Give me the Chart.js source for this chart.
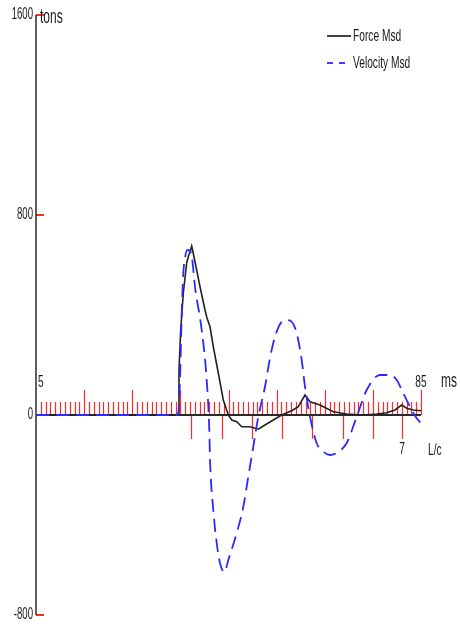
<!DOCTYPE html>
<html>
<head>
<meta charset="utf-8">
<script src="https://cdn.jsdelivr.net/npm/chart.js@4/dist/chart.umd.min.js"></script>
<style>
  html, body { margin: 0; padding: 0; background: #fff; }
  #wrap { width: 460px; height: 628px; }
</style>
</head>
<body>
<div id="wrap"><canvas id="chart" width="460" height="628"></canvas></div>
<script>
// time in ms, force / velocity in tons
const forceMs = [5, 34.5, 34.57, 34.71, 35.07, 35.61, 36.31, 36.69, 37.0, 37.35, 37.62, 38.04, 39.08, 40.12, 40.53, 41.16, 41.84, 42.88, 43.92, 44.96, 45.67, 46.71, 47.75, 49.47, 51.19, 52.58, 54.31, 56.06, 58.13, 59.5, 60.9, 61.94, 64.01, 66.78, 69.56, 73.01, 75.8, 77.87, 79.6, 80.99, 82.03, 83.4, 85];
const forceTons = [0, 0, 8, 180, 340, 488, 608, 636, 652, 676, 652, 613, 513, 420, 388, 353, 273, 168, 60, 0, -20, -27, -47, -47, -57, -40, -20, 0, 17, 33, 80, 53, 40, 13, 4, 0, 4, 9, 20, 40, 27, 20, 17];

const velMs = [5, 34.5, 34.92, 35.28, 35.61, 35.96, 36.44, 37.0, 37.42, 38.04, 39.43, 40.47, 41.01, 41.16, 41.84, 42.55, 43.23, 44.13, 44.96, 46.7, 48.08, 49.11, 50.15, 51.19, 52.58, 53.62, 54.66, 56.06, 57.09, 58.13, 59.17, 60.21, 60.9, 61.94, 63.33, 64.7, 66.09, 67.75, 69.56, 71.64, 73.72, 76.48, 78.56, 79.95, 81.32, 82.71, 84.1, 85];
const velTons = [0, 0, 140, 408, 568, 628, 660, 657, 628, 513, 340, 140, -60, -180, -380, -512, -592, -629, -580, -472, -367, -247, -127, -7, 113, 228, 313, 373, 380, 373, 327, 220, 113, -7, -113, -147, -160, -148, -112, -7, 100, 160, 160, 140, 87, 33, -13, -33];

const yTicks = [1600, 800, 0, -800];
const msMajor = [15, 25, 35, 45, 55, 65, 75, 85];
const lcTickMs = [37.15, 43.65, 49.88, 56.12, 62.35, 68.73, 74.96, 81.05];
const lcLabels = ["", "", "", "", "", "", "", "7"];

const RED = "#ff2a2a";
const SX = 0.6; // text is squeezed horizontally

function txt(ctx, s, x, y, align, size) {
  ctx.save();
  ctx.translate(x, y);
  ctx.scale(SX, 1);
  ctx.font = size + "px 'Liberation Sans', Arial, sans-serif";
  ctx.fillStyle = "#1a1a1a";
  ctx.textAlign = align;
  ctx.textBaseline = "middle";
  ctx.fillText(s, 0, 0);
  ctx.restore();
}

const axesPlugin = {
  id: "axesPlugin",
  beforeDatasetsDraw(chart) {
    const { ctx, chartArea: a, scales: { x, y } } = chart;
    const y0 = y.getPixelForValue(0);
    ctx.save();
    ctx.strokeStyle = RED;
    ctx.lineWidth = 1.2;
    // ms ticks above the axis
    for (let m = 6; m <= 85; m++) {
      const px = Math.round(x.getPixelForValue(m)) + 0.5;
      const len = msMajor.includes(m) ? 25 : 13;
      ctx.beginPath();
      ctx.moveTo(px, y0);
      ctx.lineTo(px, y0 - len);
      ctx.stroke();
    }
    // L/c ticks below the axis
    lcTickMs.forEach(m => {
      const px = Math.round(x.getPixelForValue(m)) + 0.5;
      ctx.beginPath();
      ctx.moveTo(px, y0);
      ctx.lineTo(px, y0 + 24);
      ctx.stroke();
    });
    // y axis ticks
    ctx.lineWidth = 2;
    yTicks.forEach(v => {
      const py = y.getPixelForValue(v);
      ctx.beginPath();
      ctx.moveTo(a.left, py);
      ctx.lineTo(a.left + 8, py);
      ctx.stroke();
    });
    // axis lines
    ctx.strokeStyle = "#2a2a2a";
    ctx.lineWidth = 2;
    ctx.beginPath();
    ctx.moveTo(a.left, y0);
    ctx.lineTo(x.getPixelForValue(85), y0);
    ctx.stroke();
    ctx.lineWidth = 1.5;
    ctx.beginPath();
    ctx.moveTo(a.left, a.top);
    ctx.lineTo(a.left, a.bottom);
    ctx.stroke();
    ctx.restore();
  },
  afterDraw(chart) {
    const { ctx, chartArea: a, scales: { x, y } } = chart;
    const y0 = y.getPixelForValue(0);
    yTicks.forEach(v => txt(ctx, String(v), a.left - 3, y.getPixelForValue(v), "right", 16));
    txt(ctx, "tons", a.left + 4, a.top + 2, "left", 20);
    txt(ctx, "5", a.left + 2, y0 - 33, "left", 17);
    txt(ctx, "85", x.getPixelForValue(85), y0 - 33, "center", 17);
    txt(ctx, "ms", x.getPixelForValue(85) + 20, y0 - 34, "left", 20);
    lcTickMs.forEach((m, i) => {
      if (lcLabels[i]) txt(ctx, lcLabels[i], x.getPixelForValue(m), y0 + 34, "center", 17);
    });
    txt(ctx, "L/c", x.getPixelForValue(85) + 7, y0 + 35, "left", 17);

    // legend
    ctx.save();
    ctx.strokeStyle = "#111";
    ctx.lineWidth = 1.6;
    ctx.beginPath();
    ctx.moveTo(327, 36);
    ctx.lineTo(351, 36);
    ctx.stroke();
    ctx.strokeStyle = "#2a2aff";
    ctx.lineWidth = 1.8;
    ctx.setLineDash([6, 6]);
    ctx.beginPath();
    ctx.moveTo(327, 63);
    ctx.lineTo(351, 63);
    ctx.stroke();
    ctx.restore();
    txt(ctx, "Force Msd", 353, 36, "left", 17);
    txt(ctx, "Velocity Msd", 353, 63, "left", 17);
  }
};

new Chart(document.getElementById("chart"), {
  type: "line",
  data: {
    datasets: [
      {
        label: "Velocity Msd",
        data: velMs.map((m, i) => ({ x: m, y: velTons[i] })),
        borderColor: "#2a2aff",
        borderWidth: 1.8,
        borderDash: [13, 7],
        pointRadius: 0,
        fill: false,
        cubicInterpolationMode: "monotone",
        order: 0
      },
      {
        label: "Force Msd",
        data: forceMs.map((m, i) => ({ x: m, y: forceTons[i] })),
        borderColor: "#222",
        borderWidth: 1.6,
        pointRadius: 0,
        fill: false,
        tension: 0,
        order: 1
      }
    ]
  },
  options: {
    responsive: false,
    animation: false,
    layout: { padding: { left: 36, right: 39, top: 15, bottom: 13 } },
    plugins: { legend: { display: false }, tooltip: { enabled: false } },
    scales: {
      x: { type: "linear", min: 5, max: 85, display: false },
      y: { min: -800, max: 1600, display: false }
    }
  },
  plugins: [axesPlugin]
});
</script>
</body>
</html>
